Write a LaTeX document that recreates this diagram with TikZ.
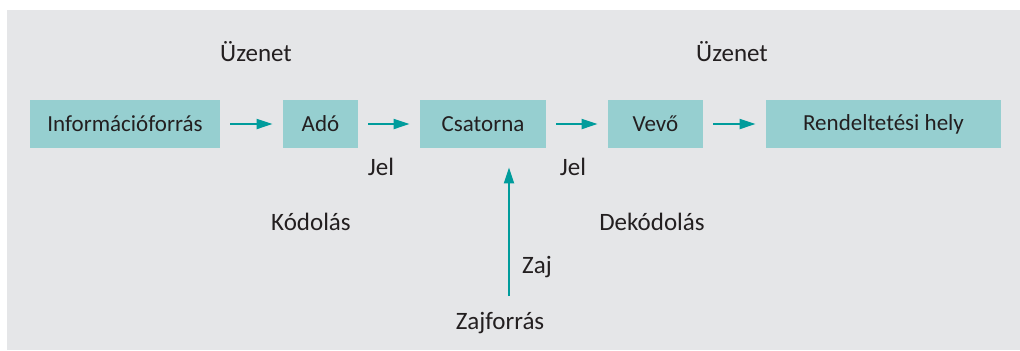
\documentclass[tikz,border=0pt]{standalone}
\usepackage{fontspec}
\setmainfont{Carlito}
\usepackage{xcolor}
\usetikzlibrary{arrows.meta,positioning}

\definecolor{panelgray}{RGB}{229,230,232}
\definecolor{boxteal}{RGB}{150,207,208}
\definecolor{arrowteal}{RGB}{0,156,156}
\definecolor{textdark}{RGB}{35,31,32}

\tikzset{
    stage/.style={fill=boxteal, inner sep=0pt, minimum height=24pt, text=textdark},
    lbl/.style={inner sep=0pt, text=textdark, font=\fontsize{12.5}{15}\selectfont},
    flow/.style={-{Triangle[length=8pt,width=5pt]}, draw=arrowteal, line width=1pt,
        shorten <=5pt, shorten >=5pt}
}

\begin{document}
\begin{tikzpicture}[x=0.5pt,y=-0.5pt,font=\fontsize{11.5}{14}\selectfont]
    \useasboundingbox (0,0) rectangle (1020,350);
    \fill[panelgray] (7,10) rectangle (1020,350);

    \node[stage, minimum width=95pt] (info) at (125,124) {Információforrás};
    \node[stage, minimum width=37.5pt] (ado) at (320.5,124) {Adó};
    \node[stage, minimum width=63pt] (csat) at (483,124) {Csatorna};
    \node[stage, minimum width=47.5pt] (vevo) at (655.5,124) {Vevő};
    \node[stage, minimum width=117.5pt] (rend) at (883.5,124) {Rendeltetési hely};

    \draw[flow] (info) -- (ado);
    \draw[flow] (ado) -- (csat);
    \draw[flow] (csat) -- (vevo);
    \draw[flow] (vevo) -- (rend);

    \node[lbl] (uz1) at (256,52) {Üzenet};
    \node[lbl] (uz2) at (732,52) {Üzenet};
    \node[lbl] (jel1) at (381,167) {Jel};
    \node[lbl] (jel2) at (573,167) {Jel};
    \node[lbl] (kod) at (311,222) {Kódolás};
    \node[lbl] (dekod) at (652,222) {Dekódolás};
    \node[lbl] (zaj) at (537,267) {Zaj};
    \node[lbl] (zajf) at (500,323) {Zajforrás};

    \coordinate (zsrc) at (509,296);
    \draw[flow, shorten <=0pt, shorten >=9.5pt] (zsrc) -- (csat.south -| zsrc);
\end{tikzpicture}
\end{document}
